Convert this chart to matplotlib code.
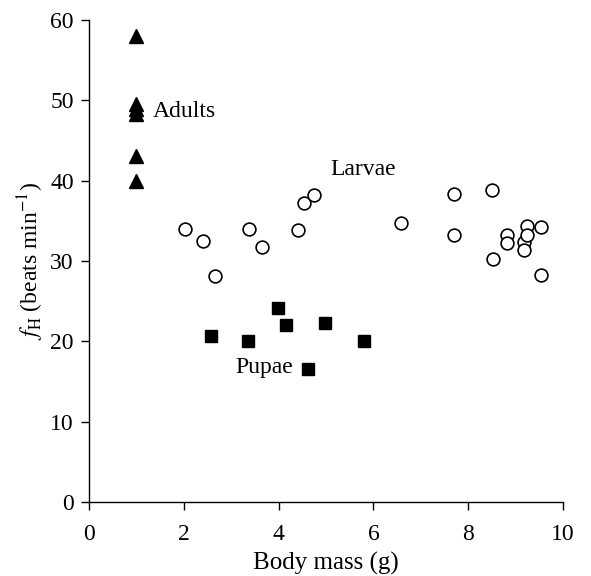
import matplotlib
matplotlib.use("Agg")
import matplotlib.pyplot as plt

adults_x = [1.0, 1.0, 1.0, 1.0, 1.0, 1.0]
adults_y = [58.0, 49.6, 48.9, 48.3, 43.1, 40.0]

larvae_x = [2.03, 2.41, 2.66, 3.37, 3.65, 4.41, 4.53, 4.75, 6.58, 7.70, 7.70,
            8.51, 8.52, 8.82, 8.82, 9.17, 9.18, 9.25, 9.25, 9.53, 9.53]
larvae_y = [34.0, 32.5, 28.1, 34.0, 31.8, 33.9, 37.2, 38.2, 34.8, 38.3, 33.3,
            38.8, 30.3, 33.3, 32.3, 32.4, 31.4, 34.4, 33.3, 34.3, 28.3]

pupae_x = [2.58, 3.35, 3.99, 4.16, 4.97, 5.80, 4.61]
pupae_y = [20.7, 20.1, 24.1, 22.0, 22.3, 20.1, 16.6]

xticks = [0, 2, 4, 6, 8, 10]
yticks = [0, 10, 20, 30, 40, 50, 60]

plt.rcParams['font.family'] = ['Liberation Serif', 'DejaVu Serif']
plt.rcParams['mathtext.fontset'] = 'stix'

FS = 17

fig = plt.figure(figsize=(5.91, 5.76), dpi=100)
ax = fig.add_axes([0.1506, 0.1285, 0.802, 0.8365])

ax.plot(adults_x, adults_y, linestyle='none', marker='^', markersize=10,
        color='black', clip_on=False)
ax.plot(larvae_x, larvae_y, linestyle='none', marker='o', markersize=9.2,
        markerfacecolor='white', markeredgecolor='black', markeredgewidth=1.2,
        clip_on=False)
ax.plot(pupae_x, pupae_y, linestyle='none', marker='s', markersize=8.5,
        color='black', clip_on=False)

ax.text(1.35, 48.0, 'Adults', fontsize=FS, va='baseline', ha='left')
ax.text(5.09, 40.7, 'Larvae', fontsize=FS, va='baseline', ha='left')
ax.text(3.08, 16.1, 'Pupae', fontsize=FS, va='baseline', ha='left')

ax.set_xlim(0, 10)
ax.set_ylim(0, 60)
ax.set_xticks(xticks)
ax.set_yticks(yticks)
ax.tick_params(direction='out', length=6, width=1.0, labelsize=FS)
ax.tick_params(axis='x', pad=10)
ax.tick_params(axis='y', pad=5)
for s in ['top', 'right']:
    ax.spines[s].set_visible(False)
for s in ['left', 'bottom']:
    ax.spines[s].set_linewidth(1.0)

ax.set_xlabel('Body mass (g)', fontsize=18, labelpad=5)
ax.set_ylabel(r'$\mathit{f}_{\mathrm{H}}$ (beats min$^{-1}$)', fontsize=FS, labelpad=3)

fig.savefig('out.png', dpi=100)
